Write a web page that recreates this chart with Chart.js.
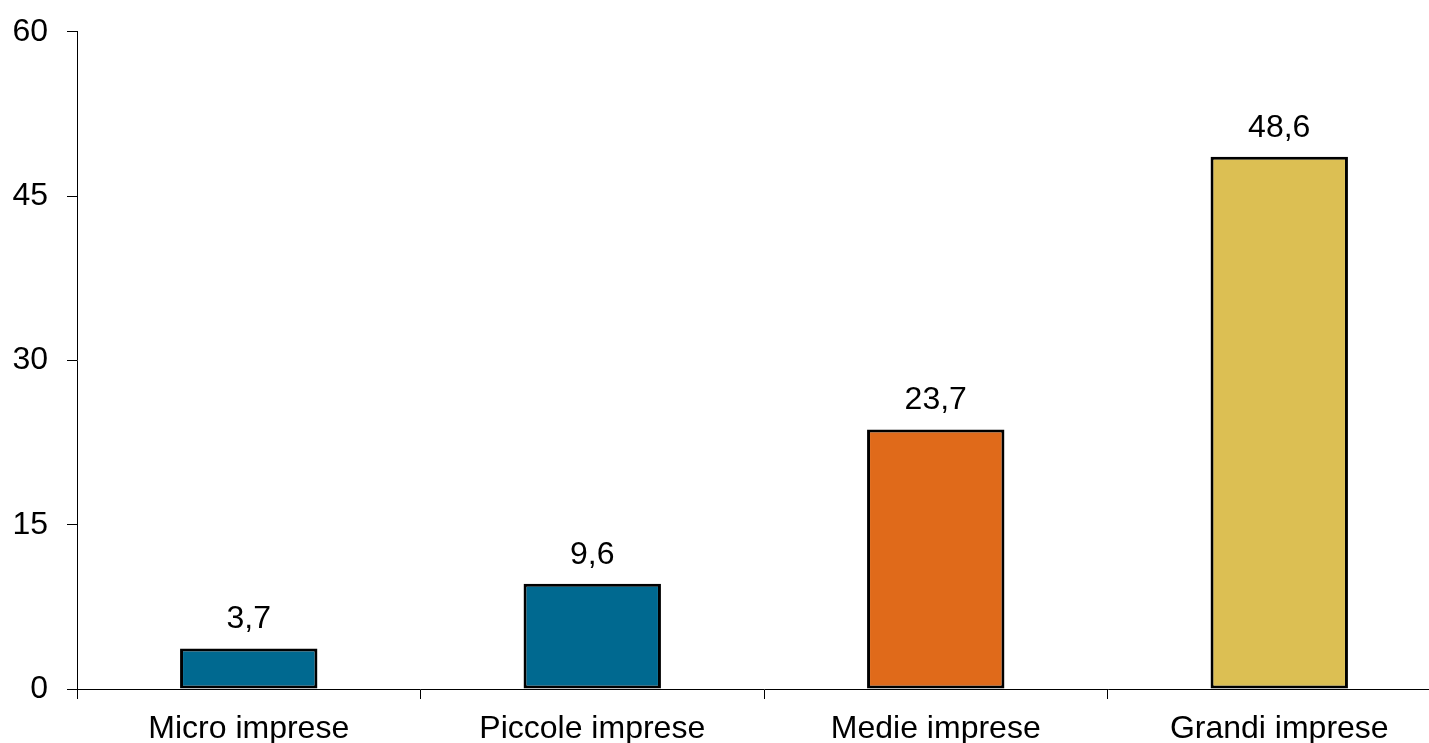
<!DOCTYPE html>
<html>
<head>
<meta charset="utf-8">
<script src="https://cdn.jsdelivr.net/npm/chart.js@4/dist/chart.umd.min.js"></script>
<style>
  html, body { margin: 0; padding: 0; background: #fff; overflow: hidden; }
  #wrap { width: 1460px; height: 743px; position: relative; }
</style>
</head>
<body>
<div id="wrap"><canvas id="myBar"></canvas></div>
<script>
// data
var categories = ['Micro imprese', 'Piccole imprese', 'Medie imprese', 'Grandi imprese'];
var values = [3.7, 9.6, 23.7, 48.6];
var barColors = ['#006990', '#006990', '#e06a1a', '#dcbf53'];
var yTicks = [0, 15, 30, 45, 60];

var fontFamily = '"Liberation Sans", Arial, sans-serif';

// value labels above bars, Italian decimal comma
var valueLabels = {
  id: 'valueLabels',
  afterDatasetsDraw: function(chart) {
    var ctx = chart.ctx;
    var meta = chart.getDatasetMeta(0);
    ctx.save();
    ctx.font = '32px ' + fontFamily;
    ctx.fillStyle = '#000';
    ctx.textAlign = 'center';
    ctx.textBaseline = 'alphabetic';
    meta.data.forEach(function(bar, i) {
      var txt = values[i].toFixed(1).replace('.', ',');
      ctx.fillText(txt, bar.x, bar.y - 20);
    });
    ctx.restore();
  }
};

var myBar = new Chart(document.getElementById('myBar'), {
  type: 'bar',
  data: {
    labels: categories,
    datasets: [{
      data: values,
      backgroundColor: barColors,
      borderColor: '#000',
      borderWidth: 3,
      borderSkipped: false,
      barPercentage: 0.4,
      categoryPercentage: 1.0
    }]
  },
  options: {
    responsive: true,
    maintainAspectRatio: false,
    animation: false,
    layout: { padding: { top: 27, right: 9, left: 0, bottom: 0 } },
    plugins: {
      legend: { display: false },
      tooltip: { enabled: false }
    },
    scales: {
      x: {
        offset: true,
        grid: {
          offset: true,
          drawOnChartArea: false,
          drawTicks: true,
          tickLength: 10,
          color: '#000'
        },
        border: { display: true, color: '#000', width: 1 },
        ticks: {
          color: '#000',
          padding: 11,
          maxRotation: 0,
          font: { family: fontFamily, size: 32 }
        },
        afterFit: function(scale) { scale.height = 54; }
      },
      y: {
        min: 0,
        max: 60,
        afterBuildTicks: function(scale) {
          scale.ticks = yTicks.map(function(v) { return { value: v }; });
        },
        grid: {
          drawOnChartArea: false,
          drawTicks: true,
          tickLength: 10,
          color: '#000'
        },
        border: { display: true, color: '#000', width: 1 },
        ticks: {
          color: '#000',
          padding: 19,
          font: { family: fontFamily, size: 32, lineHeight: 0.8 }
        },
        afterFit: function(scale) { scale.width = 77; }
      }
    }
  },
  plugins: [valueLabels]
});
</script>
</body>
</html>
